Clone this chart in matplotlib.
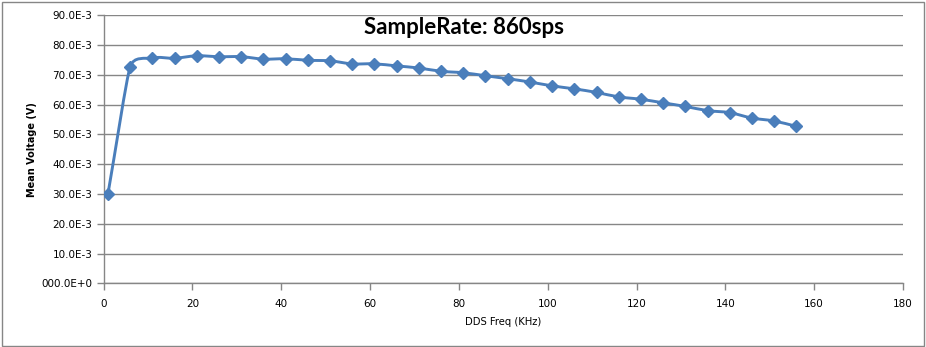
import numpy as np
import matplotlib.pyplot as plt
from matplotlib.path import Path
from matplotlib.patches import PathPatch, Rectangle
from matplotlib.ticker import FuncFormatter

# DDS frequency (KHz) and mean voltage (V)
freq_khz = [1, 6, 11, 16, 21, 26, 31, 36, 41, 46, 51, 56, 61, 66, 71, 76,
            81, 86, 91, 96, 101, 106, 111, 116, 121, 126, 131, 136, 141, 146, 151, 156]
mean_mv = [30.0, 72.7, 75.7, 75.6, 76.4, 76.1, 76.1, 75.3, 75.4, 74.9, 74.7, 73.7,
           73.7, 73.0, 72.3, 71.2, 70.7, 69.7, 68.7, 67.6, 66.3, 65.3, 64.1, 62.6,
           61.8, 60.6, 59.4, 58.0, 57.3, 55.5, 54.5, 52.7]
mean_v = [v / 1000.0 for v in mean_mv]

title = 'SampleRate: 860sps'
line_col = '#4A7EBB'
grid_col = '#868686'


def smooth_path(ax, xs, ys):
    # smoothed line like excel: cubic bezier through every point.
    # tangent at each point = (next - prev)/6 on screen, clamped so it
    # never gets longer than half the shorter neighbouring segment
    pts = np.column_stack([xs, ys]).astype(float)
    scr = ax.transData.transform(pts)
    n = len(scr)
    seg = np.hypot(*np.diff(scr, axis=0).T)
    tan = np.zeros_like(scr)
    for i in range(n):
        if i == 0:
            t = (scr[1] - scr[0]) / 3.0
            lim = 0.5 * seg[0]
        elif i == n - 1:
            t = (scr[-1] - scr[-2]) / 3.0
            lim = 0.5 * seg[-1]
        else:
            t = (scr[i + 1] - scr[i - 1]) / 6.0
            lim = 0.5 * min(seg[i - 1], seg[i])
        L = np.hypot(*t)
        if L > lim:
            t = t * lim / L
        tan[i] = t
    verts = [scr[0]]
    codes = [Path.MOVETO]
    for i in range(n - 1):
        verts += [scr[i] + tan[i], scr[i + 1] - tan[i + 1], scr[i + 1]]
        codes += [Path.CURVE4] * 3
    verts = ax.transData.inverted().transform(np.array(verts))
    return Path(verts, codes)


fig = plt.figure(figsize=(9.26, 3.47), dpi=100)
ax = fig.add_axes([103.5 / 926, 1 - 283.3 / 347, (903 - 103.5) / 926, (283.3 - 15.3) / 347])

ax.set_xlim(0, 180)
ax.set_ylim(0, 0.09)
ax.set_xticks(np.arange(0, 181, 20))
ax.set_yticks(np.arange(0, 0.0901, 0.01))

ax.add_patch(PathPatch(smooth_path(ax, freq_khz, mean_v), fill=False,
                       edgecolor=line_col, lw=2.1, capstyle='round', zorder=3))
ax.plot(freq_khz, mean_v, linestyle='none', marker='D', ms=6,
        color=line_col, zorder=4)


def yfmt(v, pos):
    if abs(v) < 1e-12:
        return '000.0E+0'
    return '%.1fE-3' % (v * 1000)


ax.yaxis.set_major_formatter(FuncFormatter(yfmt))
ax.yaxis.grid(True, color=grid_col, lw=1.0)
ax.set_axisbelow(True)
for s in ['top', 'right']:
    ax.spines[s].set_visible(False)
for s in ['left', 'bottom']:
    ax.spines[s].set_color(grid_col)
    ax.spines[s].set_linewidth(1.0)
ax.tick_params(axis='both', colors=grid_col, length=5, width=1.0,
               labelsize=7.5, labelcolor='black')
ax.tick_params(axis='x', pad=6)
ax.tick_params(axis='y', pad=3)

ax.set_xlabel('DDS Freq (KHz)', fontsize=7.2, labelpad=6)
ax.set_ylabel('Mean Voltage (V)', fontsize=7.0, fontweight='bold', labelpad=3)

fig.text(464 / 926, 1 - 27 / 347, title, ha='center', va='center',
         fontsize=16, fontweight='bold', family='Lato')

# outer chart border
fig.add_artist(Rectangle((1.5 / 926, 1.5 / 347), 922 / 926, 343.5 / 347,
                         transform=fig.transFigure, fill=False,
                         edgecolor=grid_col, lw=1.0))

fig.savefig('out.png', dpi=100)
